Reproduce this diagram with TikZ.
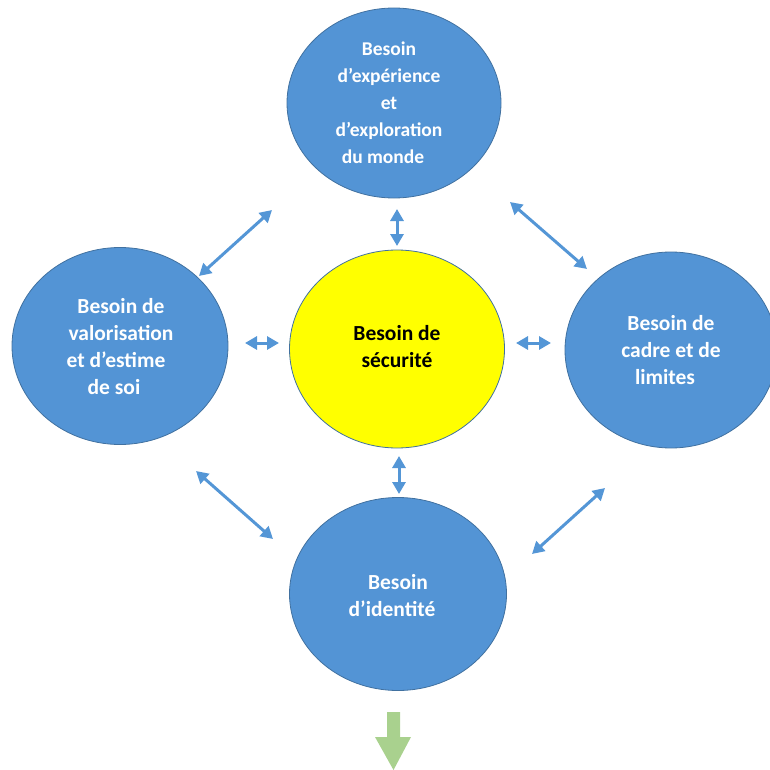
\documentclass[tikz,border=0pt]{standalone}
\usepackage{fontspec}
\setmainfont{Carlito}
\usetikzlibrary{shapes.geometric,arrows.meta}
\definecolor{bubble}{RGB}{83,148,213}
\definecolor{bubbleedge}{RGB}{65,113,160}
\definecolor{linkblue}{RGB}{84,150,214}
\definecolor{sunny}{RGB}{255,255,0}
\definecolor{leaf}{RGB}{169,209,142}
\tikzset{
  bubblebox/.style={ellipse,draw=bubbleedge,line width=0.8pt,fill=bubble,inner sep=0pt},
  yellowbox/.style={ellipse,draw=bubbleedge,line width=0.8pt,fill=sunny,inner sep=0pt},
  bubbletext/.style={align=center,font=\fontsize{21.5}{27}\selectfont\bfseries,text=white},
  toptextstyle/.style={align=center,font=\fontsize{19.5}{27}\selectfont\bfseries,text=white},
  centertext/.style={align=center,font=\fontsize{21.5}{27}\selectfont\bfseries,text=black},
  dbl/.style={draw=linkblue,line width=3pt,{Triangle[length=12pt,width=13pt]}-{Triangle[length=12pt,width=13pt]}}
}
\begin{document}
\begin{tikzpicture}[x=1pt,y=-1pt]
\useasboundingbox (0,0) rectangle (770,770);
% ellipses
\node[bubblebox,minimum width=214pt,minimum height=190pt] (top) at (394,103) {};
\node[bubblebox,minimum width=216pt,minimum height=197pt] (left) at (120,346) {};
\node[yellowbox,minimum width=215pt,minimum height=198pt] (c) at (397,349) {};
\node[bubblebox,minimum width=212pt,minimum height=196pt] (right) at (671,350) {};
\node[bubblebox,minimum width=217pt,minimum height=193pt] (bottom) at (398,594) {};
% texts
\node[toptextstyle] (toptext) at (389,103) {Besoin\\d’expérience\\et\\d’exploration\\du monde\kern12pt};
\node[bubbletext] (lefttext) at (121,347) {Besoin de\\valorisation\\et d’estime\kern10pt\\de soi\kern14pt};
\node[centertext] (ctext) at (397,347) {Besoin de\\sécurité};
\node[bubbletext] (righttext) at (671,350) {Besoin de\\cadre et de\\limites\kern12pt};
\node[bubbletext] (bottomtext) at (398,596) {Besoin\\d’identité\kern12pt};
% arrow end points
\coordinate (tc1) at (397,209);
\coordinate (tc2) at (397,246);
\coordinate (lc1) at (245,343);
\coordinate (lc2) at (279,343);
\coordinate (rc1) at (516,343);
\coordinate (rc2) at (551,343);
\coordinate (bc1) at (399,456);
\coordinate (bc2) at (399,494);
\coordinate (tl1) at (272,210);
\coordinate (tl2) at (199,276);
\coordinate (tr1) at (510,202);
\coordinate (tr2) at (587,269);
\coordinate (bl1) at (196,471);
\coordinate (bl2) at (273,539);
\coordinate (br1) at (605,488);
\coordinate (br2) at (532,554);
\draw[dbl] (tc1) -- (tc2);
\draw[dbl] (lc1) -- (lc2);
\draw[dbl] (rc1) -- (rc2);
\draw[dbl] (bc1) -- (bc2);
\draw[dbl] (tl1) -- (tl2);
\draw[dbl] (tr1) -- (tr2);
\draw[dbl] (bl1) -- (bl2);
\draw[dbl] (br1) -- (br2);
% green arrow
\fill[leaf] (387,712) -- (400,712) -- (400,737) -- (411,737) -- (393.5,770) -- (375,737) -- (387,737) -- cycle;
\end{tikzpicture}
\end{document}
